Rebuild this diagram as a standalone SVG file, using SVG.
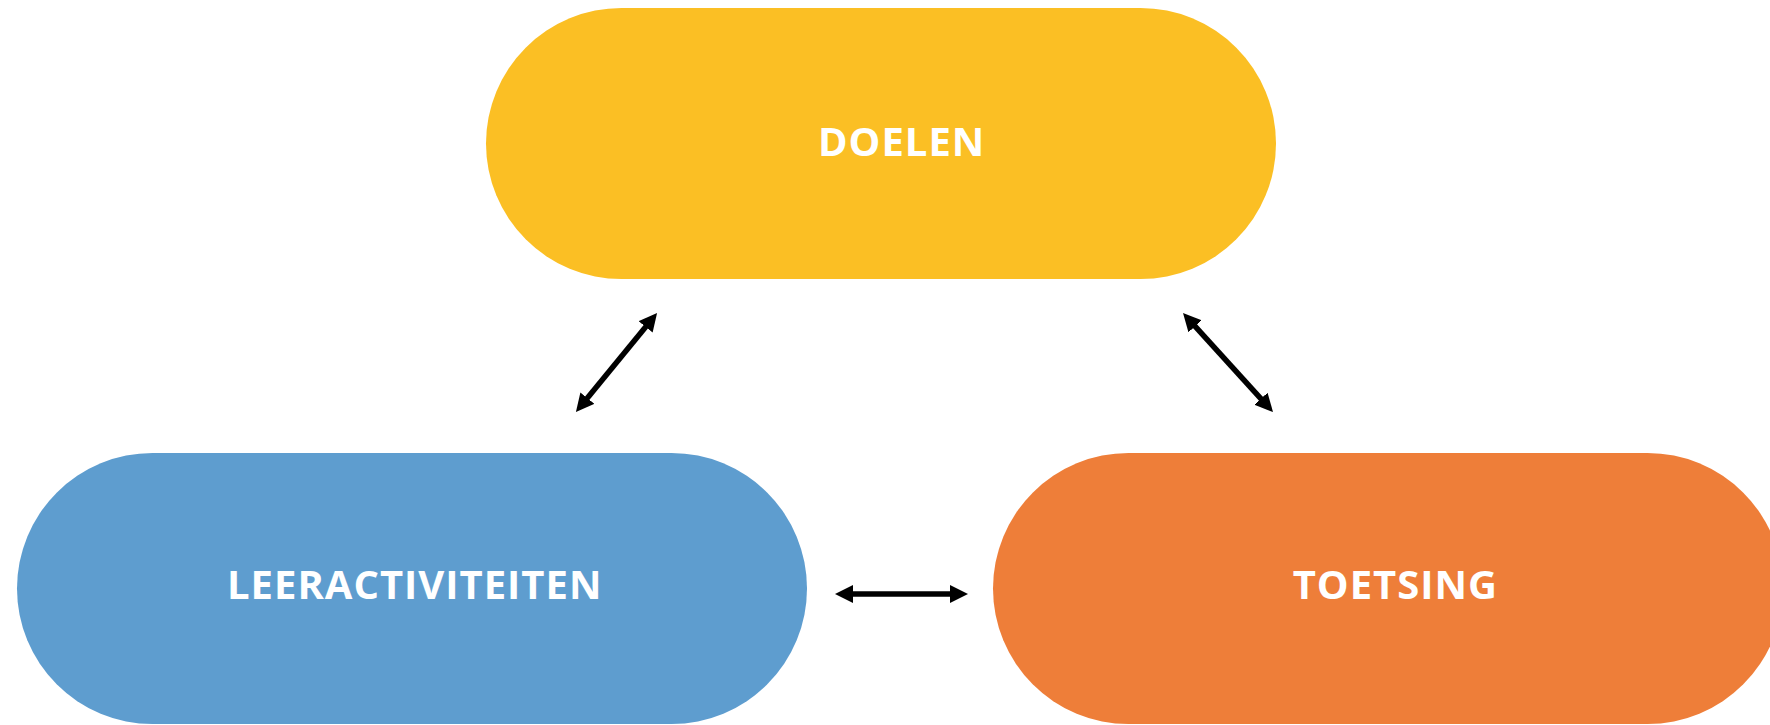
<svg xmlns="http://www.w3.org/2000/svg" width="1770" height="725" viewBox="0 0 1770 725">
<style>
.lbl{font-family:"Open Sans","Liberation Sans",sans-serif;font-weight:700;font-size:40px;fill:#FFFFFF;letter-spacing:1px}
.con{stroke:#000000;stroke-width:5.5;fill:none}
</style>
<defs>
<marker id="ah" markerUnits="userSpaceOnUse" markerWidth="18" markerHeight="18" refX="7" refY="9" orient="auto-start-reverse" viewBox="0 0 18 18">
<path d="M0,0 L18,9 L0,18 z" fill="#000000"/>
</marker>
</defs>
<rect width="1770" height="725" fill="#FFFFFF"/>
<g id="doelen">
<rect x="486" y="8" width="790" height="271" rx="135.5" ry="135.5" fill="#FBBF24"/>
<text class="lbl" x="818" y="156">DOELEN</text>
</g>
<g id="leeractiviteiten">
<rect x="17" y="453" width="790" height="271" rx="135.5" ry="135.5" fill="#5E9DCF"/>
<text class="lbl" x="227" y="599">LEERACTIVITEITEN</text>
</g>
<g id="toetsing">
<rect x="993" y="453" width="790" height="271" rx="135.5" ry="135.5" fill="#EE7E39"/>
<text class="lbl" x="1498" y="599" text-anchor="end">TOETSING</text>
</g>
<g id="connectors">
<line class="con" x1="582.9" y1="403.5" x2="650.1" y2="321.5" marker-start="url(#ah)" marker-end="url(#ah)"/>
<line class="con" x1="1190.4" y1="321.1" x2="1265.6" y2="403.9" marker-start="url(#ah)" marker-end="url(#ah)"/>
<line class="con" x1="846" y1="594" x2="957" y2="594" marker-start="url(#ah)" marker-end="url(#ah)"/>
</g>
</svg>
